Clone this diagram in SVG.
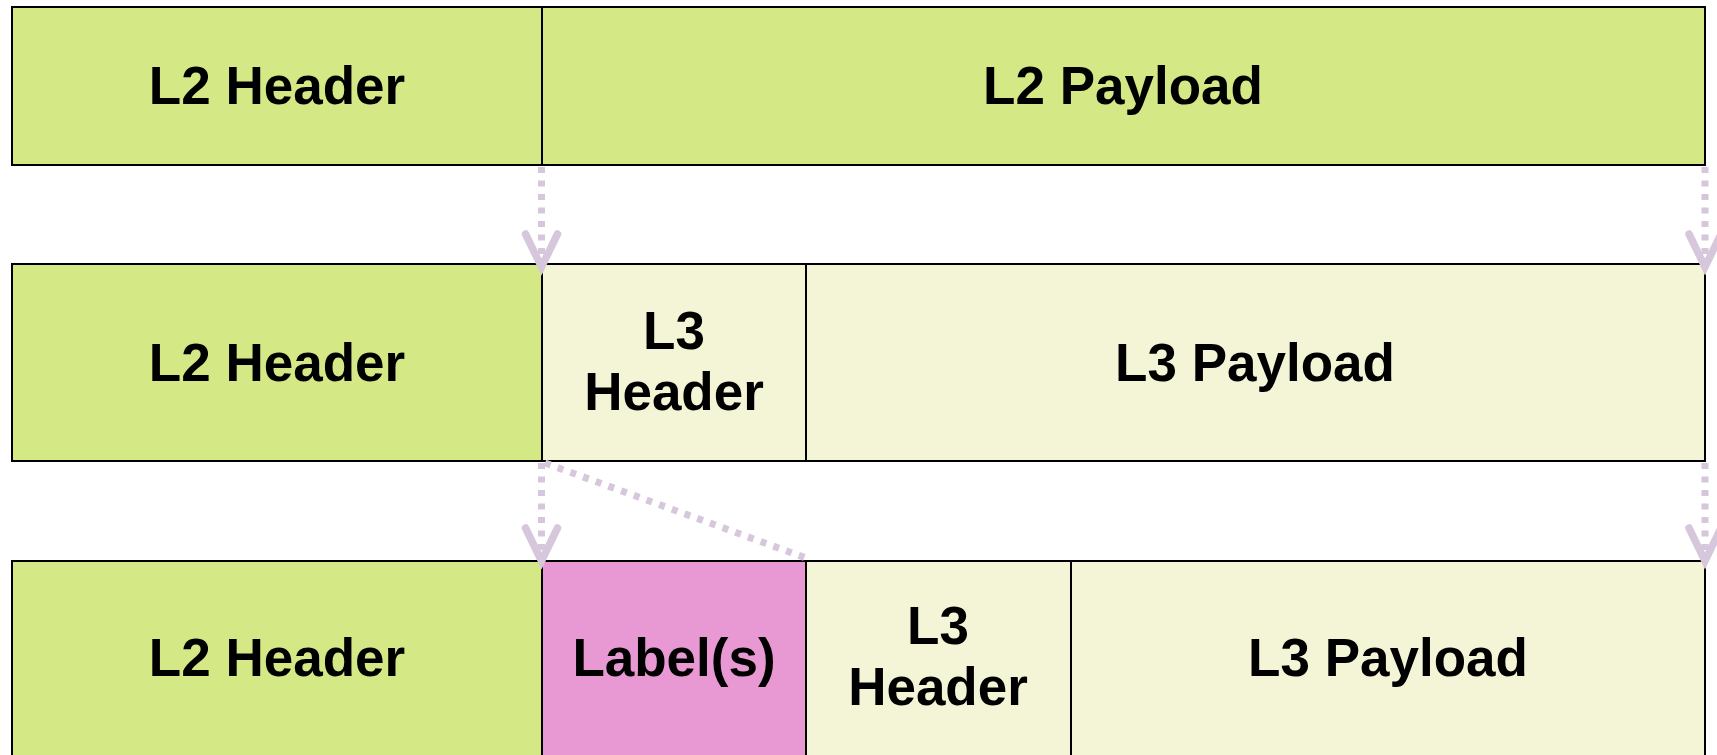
<svg xmlns="http://www.w3.org/2000/svg" width="1717" height="755" viewBox="0 0 1717 755">
  <style>
    .cell { stroke: #000; stroke-width: 2; }
    .l2 { fill: #d4e885; }
    .l3 { fill: #f4f4d6; }
    .lbl { fill: #e898d2; }
    .txt { font-family: "Liberation Sans", Arial, sans-serif; font-weight: bold; font-size: 53px; fill: #000; text-anchor: middle; }
    .flow { fill: none; stroke: #d6c7dd; stroke-width: 7; stroke-dasharray: 6 7.5; }
  </style>
  <defs>
    <marker id="chev" markerUnits="userSpaceOnUse" refX="0" refY="0" markerWidth="60" markerHeight="60" orient="auto" overflow="visible">
      <path d="M-33,-16 L0,0 L-33,16" fill="none" stroke="#d6c7dd" stroke-width="7.5" stroke-linecap="round"/>
    </marker>
  </defs>
  <rect width="1717" height="755" fill="#fff"/>

  <!-- Row 1: L2 frame -->
  <g id="r1-l2-header">
    <rect class="cell l2" x="12" y="7" width="530" height="158"/>
    <text class="txt" x="277" y="104">L2 Header</text>
  </g>
  <g id="r1-l2-payload">
    <rect class="cell l2" x="542" y="7" width="1163" height="158"/>
    <text class="txt" x="1123" y="104">L2 Payload</text>
  </g>

  <!-- Row 2: L2 payload carries L3 packet -->
  <g id="r2-l2-header">
    <rect class="cell l2" x="12" y="264" width="530" height="197"/>
    <text class="txt" x="277" y="381">L2 Header</text>
  </g>
  <g id="r2-l3-header">
    <rect class="cell l3" x="542" y="264" width="264" height="197"/>
    <text class="txt" x="674" y="349">L3</text>
    <text class="txt" x="674" y="410">Header</text>
  </g>
  <g id="r2-l3-payload">
    <rect class="cell l3" x="806" y="264" width="899" height="197"/>
    <text class="txt" x="1255" y="381">L3 Payload</text>
  </g>

  <!-- Row 3: label stack inserted -->
  <g id="r3-l2-header">
    <rect class="cell l2" x="12" y="561" width="530" height="197"/>
    <text class="txt" x="277" y="676">L2 Header</text>
  </g>
  <g id="r3-labels">
    <rect class="cell lbl" x="542" y="561" width="264" height="197"/>
    <text class="txt" x="674" y="676">Label(s)</text>
  </g>
  <g id="r3-l3-header">
    <rect class="cell l3" x="806" y="561" width="265" height="197"/>
    <text class="txt" x="938" y="644">L3</text>
    <text class="txt" x="938" y="705">Header</text>
  </g>
  <g id="r3-l3-payload">
    <rect class="cell l3" x="1071" y="561" width="634" height="197"/>
    <text class="txt" x="1388" y="676">L3 Payload</text>
  </g>

  <!-- Connectors -->
  <g id="connectors">
    <path class="flow" d="M541.5,167 L541.5,267" marker-end="url(#chev)"/>
    <path class="flow" d="M1705,167 L1705,267" marker-end="url(#chev)"/>
    <path class="flow" d="M541.5,463 L541.5,561" marker-end="url(#chev)"/>
    <path class="flow" d="M1705,463 L1705,561" marker-end="url(#chev)"/>
    <path class="flow" d="M545,463 L806,558"/>
  </g>
</svg>
